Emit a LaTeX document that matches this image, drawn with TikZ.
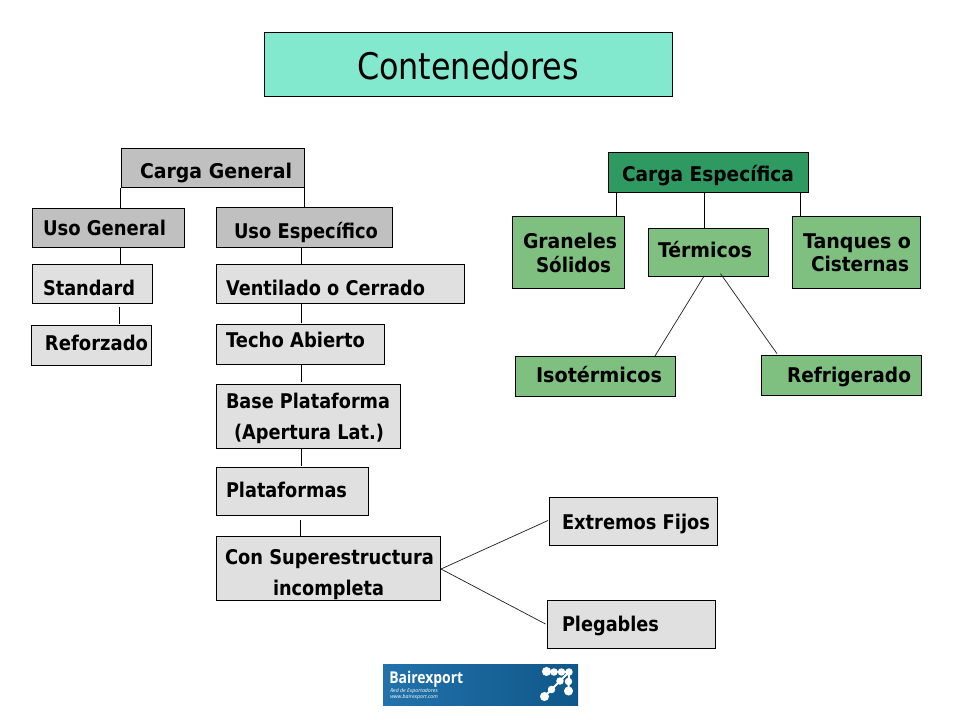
\documentclass[tikz,border=0pt]{standalone}
\usepackage{fontspec}
\usepackage{graphicx}
\setmainfont{DejaVu Sans}
\newfontfamily\logofont{Open Sans}
\definecolor{ttl}{HTML}{82E8CE}
\definecolor{greyA}{HTML}{C0C0C0}
\definecolor{greyB}{HTML}{E0E0E0}
\definecolor{grnA}{HTML}{2E9A62}
\definecolor{grnB}{HTML}{7FBF7F}
\definecolor{logoL}{HTML}{2272AC}
\definecolor{logoR}{HTML}{0F5788}
\tikzset{
  x=0.75pt,y=-0.75pt,
  boxbase/.style={draw=black,line width=0.75pt,inner sep=0pt,anchor=center},
  title/.style={boxbase,fill=ttl},
  greya/.style={boxbase,fill=greyA},
  greyb/.style={boxbase,fill=greyB},
  grna/.style={boxbase,fill=grnA},
  grnb/.style={boxbase,fill=grnB},
  conn/.style={draw=black,line width=0.75pt},
  thinconn/.style={draw=black!85,line width=0.55pt},
  logotxt/.style={text=white,inner sep=0pt,anchor=base west},
  dotbig/.style={circle,fill=white,inner sep=0pt,minimum size=6.8pt},
  dotsm/.style={circle,fill=white,inner sep=0pt,minimum size=5.6pt},
  iconline/.style={draw=white,line width=1.4pt},
}
% text line placed by absolute left/right x and baseline y, scaled horizontally to fit
\newcommand{\tl}[4]{%
  \pgfmathsetmacro{\dxv}{(#1-\cxv)*0.75}%
  \pgfmathsetmacro{\dyv}{(\cyv-#3)*0.75}%
  \pgfmathsetmacro{\wv}{(#2-#1)*0.75}%
  \rlap{\hspace*{\dxv pt}\raisebox{\dyv pt}[0pt][0pt]{\resizebox{\wv pt}{\height}{#4}}}}
\newcommand{\bx}[6]{%
  \pgfmathsetmacro{\cxv}{(#2+#4)/2}%
  \pgfmathsetmacro{\cyv}{(#3+#5)/2}%
  \pgfmathsetmacro{\bw}{(#4-#2)*0.75}%
  \pgfmathsetmacro{\bh}{(#5-#3)*0.75}%
  \node[#1,minimum width=\bw pt,minimum height=\bh pt] at (\cxv,\cyv) {#6};}
\newcommand{\bt}{\fontsize{15.2pt}{18pt}\selectfont\bfseries}
\begin{document}
\begin{tikzpicture}
\useasboundingbox (0,0) rectangle (960,720);
\fill[white] (0,0) rectangle (960,720);
% title
\bx{title,name=ttl}{264.5}{32.5}{672.5}{96.5}{\fontsize{27.5pt}{32pt}\selectfont\tl{357}{579}{79.5}{Contenedores}}
% left tree
\bx{greya,name=cg}{121}{149}{304}{188}{\bt\tl{140}{292}{178.5}{Carga General}}
\bx{greya,name=ug}{32.5}{208.5}{184.5}{248}{\bt\tl{43}{166}{236}{Uso General}}
\bx{greya,name=ue}{216.5}{207.5}{392.5}{247.5}{\bt\tl{234}{378}{238}{Uso Específico}}
\bx{greyb,name=st}{32.5}{264.5}{152.5}{304}{\bt\tl{43}{135}{295.5}{Standard}}
\bx{greyb,name=re}{31.5}{325.5}{151.5}{365.5}{\bt\tl{45}{148}{350.5}{Reforzado}}
\bx{greyb,name=ve}{216.5}{264.5}{464.5}{304}{\bt\tl{226}{425}{295.5}{Ventilado o Cerrado}}
\bx{greyb,name=te}{216.5}{324.5}{384.5}{364.5}{\bt\tl{226}{365}{347.5}{Techo Abierto}}
\bx{greyb,name=ba}{216.5}{384.5}{400.5}{448.5}{\bt\tl{226}{390}{408}{Base Plataforma}\tl{234}{384}{439}{(Apertura Lat.)}}
\bx{greyb,name=pl}{216.5}{467.5}{368.5}{515.5}{\bt\tl{226}{347}{497}{Plataformas}}
\bx{greyb,name=co}{216.5}{536.5}{440.5}{600.5}{\bt\tl{225}{434}{564}{Con Superestructura}\tl{273}{384}{595}{incompleta}}
\bx{greyb,name=ex}{549.5}{497.5}{717.5}{545.5}{\bt\tl{562}{710}{529.5}{Extremos Fijos}}
\bx{greyb,name=pg}{547.5}{600.5}{715.5}{648.5}{\bt\tl{562}{659}{631}{Plegables}}
% right tree
\bx{grna,name=ce}{608.5}{152.5}{808.5}{192.5}{\bt\tl{622}{794}{181.5}{Carga Específica}}
\bx{grnb,name=gr}{512.5}{216.5}{624.5}{288.5}{\bt\tl{523}{617}{248.5}{Graneles}\tl{536}{611}{272.5}{Sólidos}}
\bx{grnb,name=tr}{648.5}{228.5}{768.5}{276.5}{\bt\tl{658}{752}{258}{Térmicos}}
\bx{grnb,name=ta}{792.5}{216.5}{920.5}{288.5}{\bt\tl{803}{911}{248}{Tanques o}\tl{811}{909}{272}{Cisternas}}
\bx{grnb,name=is}{515.5}{356.5}{675.5}{396.5}{\bt\tl{536}{662}{382.5}{Isotérmicos}}
\bx{grnb,name=rf}{761.5}{355.5}{921.5}{395.5}{\bt\tl{787}{911}{382.5}{Refrigerado}}
% vertical connectors
\coordinate (a1) at (120.5,0);
\coordinate (a2) at (119.5,0);
\coordinate (b1) at (301.5,0);
\coordinate (b2) at (300.5,0);
\draw[conn] (cg.south west) -- (cg.south west |- ug.north);
\draw[conn] (cg.south east) -- (cg.south east |- ue.north);
\draw[conn] (ug.south -| a1) -- (st.north -| a1);
\draw[conn] ([yshift=-2pt]st.south -| a2) -- ([yshift=1pt]re.north -| a2);
\draw[conn] (ue.south -| b1) -- (ve.north -| b1);
\draw[conn] (ve.south -| b1) -- ([yshift=1pt]te.north -| b1);
\draw[conn] (te.south -| b1) -- ([yshift=1.5pt]ba.north -| b1);
\draw[conn] (ba.south -| b1) -- ([yshift=1pt]pl.north -| b1);
\draw[conn] ([yshift=-3pt]pl.south -| b2) -- (co.north -| b2);
% fan-out to the two variants
\coordinate (s1) at (441,569);
\coordinate (e1) at (548,520.5);
\coordinate (e2) at (545.5,624);
\draw[thinconn] (s1) -- (e1);
\draw[thinconn] (s1) -- (e2);
\coordinate (c1) at (616.5,0);
\coordinate (c2) at (704.5,0);
\coordinate (c3) at (800.5,0);
\draw[conn] (ce.south -| c1) -- (gr.north -| c1);
\draw[conn] (ce.south -| c2) -- (tr.north -| c2);
\draw[conn] (ce.south -| c3) -- (ta.north -| c3);
\draw[thinconn] (tr.south -| 703.5,0) -- (is.north -| 655,0);
\draw[thinconn] ([yshift=2.5pt]tr.south -| 720.5,0) -- ([yshift=1pt]rf.north -| 777,0);
% logo
\node[name=logo,inner sep=0pt,minimum width=146.25pt,minimum height=30.75pt,left color=logoL,right color=logoR] at (480.5,684.5) {};
\node[logotxt,name=lg1,font=\logofont\bfseries\fontsize{12.2pt}{14pt}\selectfont] at (389,683) {\resizebox{55.5pt}{\height}{Bairexport}};
\node[logotxt,name=lg2,font=\logofont\fontsize{3.9pt}{4pt}\selectfont\itshape] at (390,692) {Red de Exportadores};
\node[logotxt,name=lg3,font=\logofont\fontsize{3.9pt}{4pt}\selectfont\itshape] at (390,698) {www.bairexport.com};
% logo icon
\coordinate (i1) at (546.5,671.5);
\coordinate (i2) at (554,672);
\coordinate (i3) at (561.5,672);
\coordinate (i4) at (569,672);
\coordinate (i5) at (568.5,681.5);
\coordinate (i6) at (568.5,691);
\coordinate (i7) at (560,681);
\coordinate (i8) at (551.5,689.5);
\coordinate (i9) at (544.5,696.5);
\draw[iconline] (i1) -- (i4) -- (i6);
\draw[iconline] (i4) -- (i9);
\node[dotbig,name=d1] at (i1) {};
\node[dotsm,name=d2] at (i2) {};
\node[dotsm,name=d3] at (i3) {};
\node[dotsm,name=d4] at (i4) {};
\node[dotsm,name=d5] at (i5) {};
\node[dotbig,name=d6] at (i6) {};
\node[dotsm,name=d7] at (i7) {};
\node[dotsm,name=d8] at (i8) {};
\node[dotbig,name=d9] at (i9) {};
\end{tikzpicture}
\end{document}
